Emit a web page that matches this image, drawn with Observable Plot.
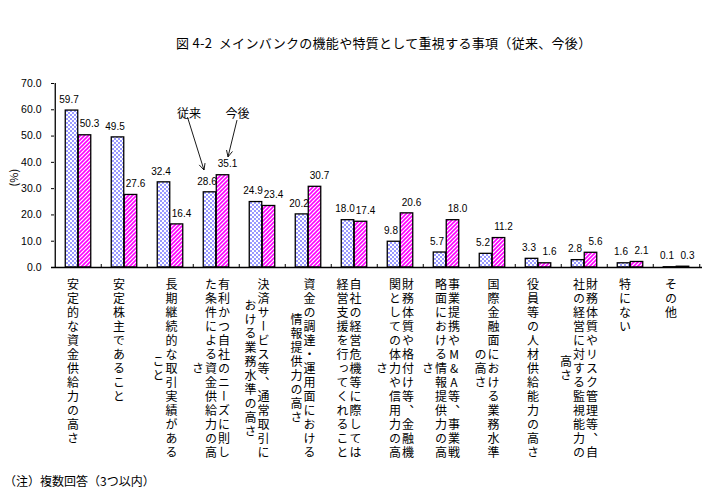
<!DOCTYPE html>
<html><head><meta charset="utf-8">
<script src="https://cdn.jsdelivr.net/npm/d3@7"></script>
<script src="https://cdn.jsdelivr.net/npm/@observablehq/plot@0.6"></script>
<style>
body{margin:0;background:#fff;}
#wrap{position:relative;width:721px;height:491px;font-family:"Noto Sans CJK JP",sans-serif;color:#000;}
#wrap svg{position:absolute;left:0;top:0;}
#title{position:absolute;left:176px;top:35px;font-size:13px;line-height:16px;white-space:pre;letter-spacing:0.3px;z-index:2;}
#note{position:absolute;left:4px;top:474px;font-size:12px;line-height:14px;white-space:nowrap;z-index:2;}
</style></head><body>
<div id="wrap">
<div id="title">図 4-2  メインバンクの機能や特質として重視する事項（従来、今後）</div>
<div id="note">（注）複数回答（3つ以内）</div>
</div>
<script>
const categoryLines = [
  ["安定的な資金供給力の高さ"],
  ["安定株主であること"],
  ["長期継続的な取引実績がある", "こと"],
  ["有利かつ自社のニーズに則し", "た条件による資金供給力の高", "さ"],
  ["決済サービス等、通常取引に", "おける業務水準の高さ"],
  ["資金の調達・運用面における", "情報提供力の高さ"],
  ["自社の経営危機等に際しては", "経営支援を行ってくれること"],
  ["財務体質や格付け等、金融機", "関としての体力や信用力の高", "さ"],
  ["事業提携やM&A等、事業戦", "略面における情報提供力の高", "さ"],
  ["国際金融面における業務水準", "の高さ"],
  ["役員等の人材供給能力の高さ"],
  ["財務体質やリスク管理等、自", "社の経営に対する監視能力の", "高さ"],
  ["特にない"],
  ["その他"]
];
const categories = categoryLines.map(l => l.join(""));
const seriesNames = ["従来", "今後"];
const conventional = [59.7, 49.5, 32.4, 28.6, 24.9, 20.2, 18.0, 9.8, 5.7, 5.2, 3.3, 2.8, 1.6, 0.1];
const future = [50.3, 27.6, 16.4, 35.1, 23.4, 30.7, 17.4, 20.6, 18.0, 11.2, 1.6, 5.6, 2.1, 0.3];
const yTicks = [0, 10, 20, 30, 40, 50, 60, 70];
const yLabel = "(%)";

const W = 721, H = 491, mL = 51, mR = 19, mT = 83, mB = 224;
const step = (W - mL - mR) / categories.length;
const barW = 13;
const outer = (step - 2 * barW) / 2;
const frameH = H - mT - mB, frameW = W - mL - mR;
const rows = categories.map((c, i) => ({cat: c, a: conventional[i], b: future[i]}));
const numFont = "'Liberation Sans', 'DejaVu Sans', sans-serif";

const chart = Plot.plot({
  width: W, height: H,
  marginLeft: mL, marginRight: mR, marginTop: mT, marginBottom: mB,
  style: {fontFamily: numFont, fontSize: "10px", background: "transparent", overflow: "visible"},
  x: {domain: categories, padding: 0, axis: null},
  y: {domain: [0, 70], axis: null},
  marks: [
    Plot.barY(rows, {x: "cat", y: "a", fill: "url(#chk)", stroke: "#000", strokeWidth: 1.3, insetLeft: outer, insetRight: outer + barW}),
    Plot.barY(rows, {x: "cat", y: "b", fill: "url(#stripe)", stroke: "#000", strokeWidth: 1.3, insetLeft: outer + barW, insetRight: outer}),
    Plot.text(rows, {x: "cat", y: "a", text: d => d.a.toFixed(1), dx: -barW / 2 - 3, dy: -11, fill: "#000", fontSize: 10}),
    Plot.text(rows, {x: "cat", y: "b", text: d => d.b.toFixed(1), dx: barW / 2 + 4.5, dy: -11, fill: "#000", fontSize: 10}),
    Plot.ruleY([0], {stroke: "#000", strokeWidth: 1.3}),
    Plot.ruleX([categories[0]], {dx: -step / 2, y1: 0, y2: 70, stroke: "#000", strokeWidth: 1.3}),
    Plot.tickY(yTicks, {y: d => d, insetRight: frameW - 3, stroke: "#000"}),
    Plot.tickX(categories.slice(1), {x: d => d, dx: -step / 2, insetTop: frameH - 3, stroke: "#000"}),
    Plot.tickX([categories[categories.length - 1]], {x: d => d, dx: step / 2, insetTop: frameH - 3, stroke: "#000"}),
    Plot.axisY({ticks: yTicks, tickFormat: d => d.toFixed(1), tickSize: 0, tickPadding: 10, fontSize: 10.5, label: null})
  ]
});

const svg = d3.select(chart);
const defs = svg.insert("defs", ":first-child");
const chk = defs.append("pattern").attr("id", "chk").attr("patternUnits", "userSpaceOnUse").attr("width", 4).attr("height", 4);
chk.append("rect").attr("width", 4).attr("height", 4).attr("fill", "#fff");
chk.append("rect").attr("width", 2).attr("height", 2).attr("fill", "#9999ff");
chk.append("rect").attr("x", 2).attr("y", 2).attr("width", 2).attr("height", 2).attr("fill", "#9999ff");
const st = defs.append("pattern").attr("id", "stripe").attr("patternUnits", "userSpaceOnUse").attr("width", 4).attr("height", 4);
st.append("rect").attr("width", 4).attr("height", 4).attr("fill", "#fff");
st.append("path").attr("d", "M-1,1 L1,-1 M0,4 L4,0 M3,5 L5,3").attr("stroke", "#ff00ff").attr("stroke-width", 1.6);

const xs = chart.scale("x"), ys = chart.scale("y");
const bx = d3.scaleBand(xs.domain, xs.range).padding(0);
const xc = v => (xs.apply ? xs.apply(v) : bx(v)) + (xs.bandwidth ?? bx.bandwidth()) / 2;
const yv = v => ys.apply ? ys.apply(v) : d3.scaleLinear(ys.domain, ys.range)(v);
const y0 = yv(0);

// category labels (vertical Japanese text, columns right to left)
const pitch = 14, colPitch = 13, fs = 12;
const gl = svg.append("g").attr("font-family", "'Noto Sans CJK JP', sans-serif").attr("font-size", fs)
  .attr("fill", "#000").attr("text-anchor", "start");
categoryLines.forEach((lines, i) => {
  const cx = xc(categories[i]) - 5;
  const n = lines.length;
  const maxLen = d3.max(lines, l => [...l].length);
  lines.forEach((line, j) => {
    const len = [...line].length;
    gl.append("text")
      .attr("text-anchor", "start")
      .attr("x", cx + ((n - 1) / 2 - j) * colPitch)
      .attr("y", y0 + 11 + (maxLen - len) * pitch / 2)
      .style("writing-mode", "vertical-rl")
      .style("text-orientation", "upright")
      .style("letter-spacing", (pitch - fs) + "px")
      .text(line);
  });
});

// y label
svg.append("text").attr("transform", `translate(13,${yv(34)}) rotate(-90)`)
  .attr("text-anchor", "middle").attr("dominant-baseline", "central")
  .attr("font-family", "'Noto Sans CJK JP', sans-serif").attr("font-size", 11).text(yLabel);

// series annotations with arrows, anchored to the 4th category
const ac = xc(categories[3]);
const ga = svg.append("g").attr("font-family", "'Noto Sans CJK JP', sans-serif").attr("font-size", 12);
const notes = [
  {name: seriesNames[0], tdx: -27, tv: 58.6, x1: -28.5, v1: 57.0, x2: -12, v2: 36.9},
  {name: seriesNames[1], tdx: 21.5, tv: 58.6, x1: 21, v1: 55.9, x2: 12, v2: 41.9}
];
notes.forEach(n => {
  ga.append("text").attr("x", ac + n.tdx).attr("y", yv(n.tv)).attr("text-anchor", "middle")
    .attr("dominant-baseline", "central").text(n.name);
  const X1 = ac + n.x1, Y1 = yv(n.v1), X2 = ac + n.x2, Y2 = yv(n.v2);
  const ang = Math.atan2(Y2 - Y1, X2 - X1), hl = 7, ha = 0.45;
  ga.append("path").attr("fill", "none").attr("stroke", "#000").attr("stroke-width", 0.9)
    .attr("d", `M${X1},${Y1}L${X2},${Y2}M${X2 - hl * Math.cos(ang - ha)},${Y2 - hl * Math.sin(ang - ha)}L${X2},${Y2}L${X2 - hl * Math.cos(ang + ha)},${Y2 - hl * Math.sin(ang + ha)}`);
});

document.getElementById("wrap").appendChild(chart);
</script>
</body></html>
